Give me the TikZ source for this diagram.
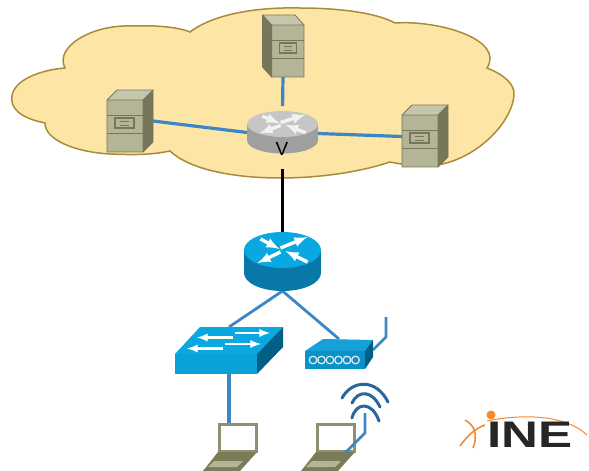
\documentclass[tikz,border=0pt]{standalone}
\usepackage{fontspec}
\usepackage{tikz}
\usetikzlibrary{arrows}
\setmainfont{Liberation Sans}

\begin{document}
\begin{tikzpicture}[x=1pt,y=-1pt]
\definecolor{cloudfill}{HTML}{FDE5A6}
\definecolor{cloudline}{HTML}{A98C3A}
\definecolor{linkblue}{HTML}{3B86C4}
\definecolor{wifiblue}{HTML}{2A669E}
\definecolor{serverfront}{HTML}{B4B496}
\definecolor{servertop}{HTML}{C6C6AD}
\definecolor{serverside}{HTML}{76775A}
\definecolor{ciscotop}{HTML}{0AA8E0}
\definecolor{ciscoside}{HTML}{0878A8}
\definecolor{ciscodark}{HTML}{005F85}
\definecolor{inkorange}{HTML}{F58A2C}
\definecolor{laptopframe}{HTML}{8F8F73}
\definecolor{laptopbase}{HTML}{7B7B55}
\tikzset{devicebox/.style={inner sep=0pt, outer sep=0pt}}
\tikzset{link/.style={draw=linkblue, line width=3.2pt}}
\tikzset{uplink/.style={draw=black, line width=3.2pt}}
\tikzset{pics/serverpic/.style={code={
  \fill[servertop] (0,0) -- (10,-10) -- (46,-10) -- (36,0) -- cycle;
  \fill[serverside] (36,0) -- (46,-10) -- (46,42) -- (36,52) -- cycle;
  \fill[serverfront] (0,0) rectangle (36,52);
  \draw[serverside, line width=.8pt] (0,0) -- (10,-10) -- (46,-10) -- (46,42) -- (36,52) -- (0,52) -- cycle;
  \draw[serverside, line width=.8pt] (0,0) -- (36,0) -- (36,52) (36,0) -- (46,-10);
  \draw[serverside, line width=.6pt] (0,15) -- (36,15) (0,33) -- (36,33);
  \draw[serverside, line width=1.2pt] (8,18) rectangle (27,28);
  \draw[serverside, line width=.6pt] (13,21) -- (22,21) (13,25) -- (22,25);
}}}
\tikzset{pics/routerpic/.style n args={3}{code={
  \fill[#2] (0,23) ellipse [x radius=38.5, y radius=18];
  \fill[#2] (-38.5,0) rectangle (38.5,23);
  \fill[#1] (0,0) ellipse [x radius=38.5, y radius=18];
  \draw[#3, line width=3.4pt, -latex] (-22,-11) -- (-3,-1);
  \draw[#3, line width=3.4pt, -latex] (-2,-2) -- (25,-13);
  \draw[#3, line width=3.4pt, -latex] (-2,2) -- (-25,13);
  \draw[#3, line width=3.4pt, -latex] (25,12) -- (3,1);
}}}
\tikzset{pics/laptoppic/.style={code={
  \fill[white] (0,0) rectangle (39,28);
  \draw[laptopframe, line width=3pt] (1,1) rectangle (38,28);
  \fill[laptopbase] (0,29) -- (39,29) -- (22,48) -- (-15,48) -- cycle;
  \fill[serverfront] (-4,38) -- (25,38) -- (19,44) -- (-10,44) -- cycle;
}}}

\useasboundingbox (0,0) rectangle (589,471);

\draw[fill=cloudfill, draw=cloudline, line width=1.5pt] (65,68)
  .. controls (54,47) and (92,24) .. (133,26)
  .. controls (155,25) and (178,27) .. (190,32)
  .. controls (215,13) and (260,7) .. (300,8)
  .. controls (335,8) and (375,12) .. (395,23)
  .. controls (440,20) and (505,40) .. (487,68)
  .. controls (505,75) and (515,85) .. (514,95)
  .. controls (512,125) and (470,166) .. (425,166)
  .. controls (412,166) and (400,164) .. (390,162)
  .. controls (360,172) and (320,178) .. (280,178)
  .. controls (235,178) and (190,170) .. (170,151)
  .. controls (150,155) and (135,155) .. (110,154)
  .. controls (75,152) and (45,140) .. (45,123)
  .. controls (20,118) and (10,108) .. (12,96)
  .. controls (14,80) and (40,70) .. (65,68) -- cycle;

\node[devicebox, minimum width=46pt, minimum height=62pt] (serverLeft) at (130,121) {};
\node[devicebox, minimum width=42pt, minimum height=62pt] (serverTop) at (283,45) {};
\node[devicebox, minimum width=46pt, minimum height=63pt] (serverRight) at (425,136.5) {};
\node[devicebox, minimum width=71pt, minimum height=45pt] (routerGrey) at (282.5,134.5) {};
\node[devicebox, minimum width=77pt, minimum height=59pt] (routerBlue) at (282.5,261.5) {};
\node[devicebox, minimum width=108pt, minimum height=47pt] (switchBlue) at (229,350.5) {};
\node[devicebox, minimum width=68pt, minimum height=30pt] (apBlue) at (339,354) {};
\node[devicebox, minimum width=54pt, minimum height=48pt] (laptopWired) at (229,447) {};

\draw[link] (serverLeft.east) -- ([yshift=2pt]routerGrey.west);
\draw[link] (serverRight.west) -- ([yshift=1pt]routerGrey.east);
\draw[link, shorten >=6pt] (serverTop.south) -- (routerGrey.north);
\draw[uplink, shorten <=12pt] (routerGrey.south) -- (routerBlue.north);
\draw[link, line width=2.8pt] (routerBlue.south) -- (switchBlue.north);
\draw[link, line width=2.8pt] (routerBlue.south) -- (apBlue.north);
\draw[link] (switchBlue.south) -- (laptopWired.north);

\pic at (107,100) {serverpic};
\pic[xscale=-.9] at (304,25) {serverpic};
\pic at (402,115) {serverpic};

\pic[xscale=.92, yscale=.72] at (282.5,124) {routerpic={gray!45}{gray!75}{white!90!gray}};
\node[devicebox, font=\fontsize{19}{19}\selectfont] (labelV) at (282,149) {V};
\pic at (282.5,250) {routerpic={ciscotop}{ciscoside}{white}};

\fill[ciscotop] (200,327) -- (283,327) -- (257,354) -- (175,354) -- cycle;
\fill[ciscotop!85!ciscoside] (175,354) rectangle (257,374);
\fill[ciscodark] (283,327) -- (283,347) -- (257,374) -- (257,354) -- cycle;
\draw[white, line width=2.6pt, -latex] (235,333) -- (270,333);
\draw[white, line width=2.6pt, -latex] (233,337.5) -- (197,337.5);
\draw[white, line width=2.6pt, -latex] (225,344) -- (261,344);
\draw[white, line width=2.6pt, -latex] (223,348.5) -- (187,348.5);

\draw[link, line width=2.6pt] (373,350) -- (386,337) -- (386,317);
\fill[ciscotop!75!linkblue] (323,339) -- (373,340) -- (365,351) -- (305,351) -- cycle;
\fill[ciscotop!55!ciscoside] (305,351) rectangle (365,369);
\fill[ciscodark] (373,340) -- (373,357) -- (365,369) -- (365,351) -- cycle;
\foreach \ringx in {313,321.5,330,338.5,347,355.5} {
  \draw[white!85!gray, line width=1.2pt] (\ringx,360) circle (3.8pt);
}

\pic at (218,423) {laptoppic};
\pic at (316,423) {laptoppic};
\draw[link, line width=2.8pt] (345,453) -- (365,433) -- (365,413);
\draw[wifiblue, line width=3pt, line cap=round] (342,398) .. controls (352,380) and (376,378) .. (388,402);
\draw[wifiblue, line width=3pt, line cap=round] (352,403) .. controls (358,390) and (372,390) .. (380,407);
\draw[wifiblue, line width=3pt, line cap=round] (352,418) .. controls (356,402) and (372,401) .. (379,421);

\draw[inkorange, line width=1pt] (487,421) .. controls (520,414) and (565,414) .. (587,435);
\draw[inkorange, line width=1.6pt] (465,420) .. controls (475,425) and (478,436) .. (473,448);
\draw[inkorange, line width=1.6pt] (460,446) .. controls (468,435) and (476,428) .. (485,425);
\fill[inkorange] (491,415) circle (4.5pt);
\node[devicebox, xscale=1.38, text=black!85, font=\fontsize{37}{37}\selectfont\bfseries] (logoINE) at (530,434.5) {INE};
\end{tikzpicture}
\end{document}
